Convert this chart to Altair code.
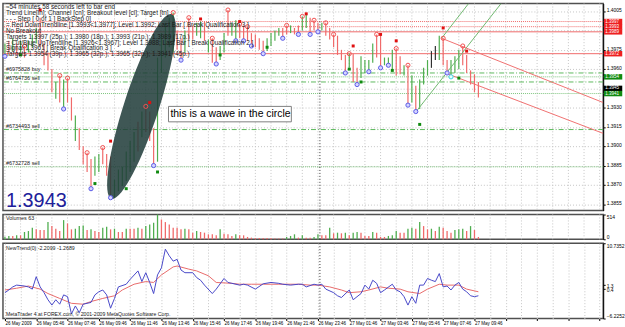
import json
import altair as alt
import pandas as pd

# ---------------- values ----------------
# M15 bars, index 0..121
bar_high = [1.3980, 1.3982, 1.3984, 1.3980, 1.3982, 1.3978, 1.3982, 1.3987, 1.3992, 1.4000,
            1.3980, 1.3973, 1.3960, 1.3950, 1.3955, 1.3952, 1.3953, 1.3938, 1.3924, 1.3914,
            1.3900, 1.3895, 1.3890, 1.3892, 1.3894, 1.3899, 1.3894, 1.3892, 1.3874, 1.3882,
            1.3884, 1.3896, 1.3904, 1.3911, 1.3919, 1.3927, 1.3931, 1.3927, 1.3914, 1.3969,
            1.3988, 1.3996, 1.4000, 1.4004, 1.3990, 1.3984, 1.3990, 1.4000, 1.3994, 1.3996,
            1.3997, 1.3997, 1.3983, 1.3984, 1.3977, 1.3978, 1.3988, 1.4006, 1.3996, 1.3998,
            1.3995, 1.3994, 1.3993, 1.3988, 1.3987, 1.3984, 1.3982, 1.3984, 1.3988, 1.3990,
            1.3992, 1.3992, 1.3994, 1.3994, 1.3992, 1.3994, 1.4001, 1.4002, 1.4000, 1.3998,
            1.3996, 1.3996, 1.3996, 1.3992, 1.3987, 1.3986, 1.3975, 1.3971, 1.3972, 1.3972,
            1.3961, 1.3970, 1.3967, 1.3967, 1.3980, 1.3987, 1.3987, 1.3969, 1.3969, 1.3975,
            1.3976, 1.3970, 1.3963, 1.3963, 1.3955, 1.3947, 1.3952, 1.3961, 1.3967, 1.3974,
            1.3978, 1.3986, 1.3984, 1.3967, 1.3967, 1.3970, 1.3975, 1.3978, 1.3971, 1.3959,
            1.3956, 1.3950]
bar_low = [1.3970, 1.3973, 1.3974, 1.3971, 1.3973, 1.3969, 1.3973, 1.3977, 1.3980, 1.3977,
           1.3963, 1.3959, 1.3942, 1.3937, 1.3934, 1.3929, 1.3934, 1.3920, 1.3904, 1.3897,
           1.3886, 1.3880, 1.3867, 1.3877, 1.3880, 1.3886, 1.3877, 1.3860, 1.3860, 1.3865,
           1.3869, 1.3873, 1.3880, 1.3888, 1.3896, 1.3907, 1.3911, 1.3904, 1.3885, 1.3888,
           1.3957, 1.3969, 1.3977, 1.3973, 1.3975, 1.3967, 1.3973, 1.3983, 1.3983, 1.3986,
           1.3984, 1.3982, 1.3973, 1.3965, 1.3964, 1.3967, 1.3973, 1.3986, 1.3986, 1.3982,
           1.3984, 1.3982, 1.3982, 1.3978, 1.3977, 1.3975, 1.3972, 1.3974, 1.3978, 1.3982,
           1.3986, 1.3984, 1.3987, 1.3988, 1.3987, 1.3987, 1.3990, 1.3992, 1.3987, 1.3990,
           1.3989, 1.3990, 1.3986, 1.3983, 1.3977, 1.3971, 1.3967, 1.3957, 1.3961, 1.3950,
           1.3948, 1.3953, 1.3957, 1.3958, 1.3965, 1.3969, 1.3961, 1.3963, 1.3963, 1.3960,
           1.3955, 1.3956, 1.3955, 1.3932, 1.3934, 1.3927, 1.3929, 1.3948, 1.3955, 1.3961,
           1.3967, 1.3967, 1.3963, 1.3957, 1.3954, 1.3957, 1.3960, 1.3963, 1.3957, 1.3948,
           1.3942, 1.3938]
bar_dir = list("udududuuud" "dddududdud" "ddduuddduu" "uuuududddu" "uuuudduddu"
               "ududduuduu" "ddddddduuu" "uddudduudd" "duddddddud" "duuuudduuu"
               "ddududuuun" "nudduuuddd" "dd")
volumes = [55, 69, 69, 82, 82, 151, 171, 240, 206, 192,
           192, 357, 274, 219, 171, 398, 329, 206, 219, 274,
           288, 192, 206, 171, 151, 240, 261, 206, 219, 151,
           151, 219, 219, 219, 240, 219, 274, 309, 343, 514,
           411, 357, 309, 240, 240, 206, 219, 206, 137, 171,
           151, 137, 103, 103, 82, 206, 117, 103, 69, 103,
           82, 82, 48, 34, 27, 27, 27, 27, 27, 14,
           14, 14, 48, 69, 103, 34, 82, 34, 34, 48,
           103, 82, 82, 240, 124, 137, 124, 137, 82, 137,
           151, 137, 69, 69, 151, 137, 48, 48, 69, 82,
           171, 137, 137, 219, 240, 219, 357, 274, 206, 219,
           171, 261, 240, 171, 137, 192, 206, 219, 171, 274,
           192, 48]

# fractal markers (bar indices) and signal squares (bar, price)
high_circle_bars = [5, 14, 16, 21, 25, 36, 43, 47, 53, 57, 60, 62, 72, 76, 79, 82, 84, 88, 95, 100, 103, 112, 117]
low_circle_bars = [0, 15, 22, 27, 38, 45, 54, 59, 61, 63, 66, 71, 75, 78, 80, 87, 90, 93, 96, 98, 103, 105, 113]
cyan_circle_bars = [114]
red_sq_bar = [9, 27, 37, 50, 60, 77, 89, 96, 100, 112, 118]
red_sq_price = [1.4006, 1.3904, 1.3934, 1.3999, 1.3997, 1.4003, 1.3978, 1.3987, 1.3982, 1.3992, 1.3974]
green_sq_bar = [4, 23, 31, 39, 55, 67, 88, 91, 99, 106, 116]
green_sq_price = [1.3971, 1.3871, 1.3867, 1.3880, 1.3971, 1.3977, 1.3960, 1.3950, 1.3959, 1.3917, 1.3953]

# horizontal levels
red_dotted_levels = [1.3997, 1.3993]
red_solid_levels = [1.3989, 1.3972]
green_dashdot_levels = [1.3957, 1.3950, 1.3913]
green_dotted_levels = [1.3954, 1.3941, 1.3884]
order_prices = [1.3957, 1.3950, 1.3913, 1.3884]
order_labels = ["#6975828 buy", "#6764736 sell", "#6734493 sell", "#6732728 sell"]

# trend lines: (id, bar, price)
trend_id = ["g1", "g1", "g2", "g2", "r1", "r1", "r2", "r2"]
trend_bar = [105.1, 126.8, 111.6, 118.5, 111.6, 152.9, 113.4, 152.9]
trend_price = [1.3927, 1.4011, 1.3984, 1.4011, 1.3984, 1.3934, 1.3956, 1.3910]
trend_color = ["#6fb86f", "#6fb86f", "#6fb86f", "#6fb86f", "#f07070", "#f07070", "#f07070", "#f07070"]

# right-hand price tags
tag_prices = [1.3997, 1.3993, 1.3989, 1.3972, 1.3954, 1.3945, 1.3941]
tag_colors = ["#ee2020", "#ee2020", "#ee2020", "#ee2020", "#108a10", "#000000", "#108a10"]

price_ticks = [1.3855, 1.3870, 1.3885, 1.3900, 1.3915, 1.3930, 1.3945, 1.3960, 1.3975, 1.3990, 1.4005]
hidden_price_labels = [1.3990, 1.3945]

# oscillator (NewTrend) lines
osc_blue_bar = [0, 1, 2, 3, 5, 6, 7, 8, 9, 10, 11, 12, 13, 14, 15, 16, 17, 18, 19, 20, 22, 23, 24, 25, 26, 27, 28, 29,
                31, 32, 34, 35, 36, 37, 38, 39, 40, 41, 42, 43, 44, 45, 46, 48, 49, 50, 51, 53, 54, 56, 57, 58, 60, 61,
                62, 64, 66, 68, 70, 71, 73, 75, 76, 77, 79, 80, 81, 82, 84, 85, 86, 88, 89, 91, 92, 93, 94, 95, 96, 97,
                99, 100, 101, 102, 103, 104, 105, 106, 107, 108, 109, 110, 111, 112, 113, 114, 115, 116, 117, 118, 119,
                120, 121]
osc_blue_val = [-0.4, 0.2, 0.9, 1.3, 1.1, 0.9, 0.4, 3.2, 0.9, -0.4, -2.0, -3.2, -2.0, -3.0, -0.9, -1.3, -5.2, -3.4,
                -4.9, -3.0, -2.6, -0.9, -0.2, 0.2, -0.9, -3.9, -1.7, 0.9, 1.5, 2.6, 4.5, 2.1, 4.1, 1.9, -0.6, 3.6, 5.2,
                9.4, 7.9, 6.7, 7.1, 4.7, 4.1, 4.1, 3.0, 2.4, 1.3, -0.6, 0.4, 2.8, 1.9, 1.7, 1.3, 1.5, 1.3, 0.4, 1.6,
                1.9, 1.7, 1.5, 1.3, 1.5, 1.5, 0.9, 1.5, 1.3, 1.5, 0.4, -0.4, -1.1, -1.5, 0.2, -2.0, -0.6, 1.3, 0.4,
                2.4, 1.7, -0.4, 0.2, 1.5, 0.2, -0.2, -1.3, -3.2, -1.3, -2.8, 1.3, 1.3, 2.8, 2.4, 2.1, 3.9, 0.9, 1.1,
                0.2, 1.3, 1.9, 0.4, -0.2, -1.1, -1.3, -1.1]
osc_red_bar = [0, 3, 6, 9, 11, 14, 17, 20, 22, 25, 28, 30, 33, 36, 38, 40, 43, 44, 47, 49, 52, 54, 58, 60, 63, 66, 70,
               75, 78, 80, 83, 86, 88, 91, 93, 96, 98, 101, 103, 106, 108, 111, 113, 116, 118, 121]
osc_red_val = [0.2, 0.6, 1.1, 0.4, -0.6, -1.7, -2.8, -3.0, -2.4, -1.7, -1.1, 0.2, 1.5, 2.1, 1.9, 3.6, 5.4, 5.6, 4.9,
               4.5, 3.4, 1.9, 1.7, 1.5, 1.5, 1.5, 1.5, 1.5, 1.3, 1.3, 0.9, 0.2, -0.4, -0.2, 0.2, 0.9, 0.6, 0.4, -0.2,
               -0.6, 0.4, 1.5, 1.3, 1.3, 0.4, -0.2]
osc_levels = [1.3, 0.4]
osc_min, osc_max = -6.2252, 10.7352

x_labels = ["26 May 2009", "26 May 05:46", "26 May 07:46", "26 May 09:46", "26 May 11:46", "26 May 13:46",
            "26 May 15:46", "26 May 17:46", "26 May 19:46", "26 May 21:46", "26 May 23:46", "27 May 01:46",
            "27 May 03:46", "27 May 05:46", "27 May 07:46", "27 May 09:46"]
day_separator = [80.5]

comment_lines = [
    "\u224854 minutes 58 seconds left to bar end",
    "Trend Line[ln]; Channel [cn]; Breakout level [cl]; Target [tn]",
    "- - - Step [ 0 of 1 ] BackStep 0]",
    "= Red DownTrendline [1.3993<1.3977]; Level 1.3992; Last Bar [ Break Qualification 3 ]",
    "No Breakout",
    "Targets 1.3997 (25p.); 1.3980 (18p.); 1.3993 (21p.); 1.3989 (17p.)",
    "= Cut/Blue UpTrendline [1.3926<1.3967]; Level 1.3988; Last Bar [ Break Qualification 2 ]",
    "Signal 1.3961 [ Break Qualification 3 ]",
    "Targets 1.3954 (39p.); 1.3965 (32p.); 1.3965 (32p.); 1.3941 (45p.)",
]
big_price_text = "1.3943"
note_text = "this is a wawe in the circle"
# annotation anchors (bar, price)
ellipse_center = (34.9, 1.3931)
note_box = (41.8, 73.2, 1.3919, 1.3931)
big_price_anchor = (0.3, 1.3853)

# ---------------- layout / styles ----------------
FONT = "Liberation Sans"
W = 606
H_MAIN, H_VOL, H_OSC = 209, 25, 76
GRIDC = "#c4c4c4"
xscale = alt.Scale(domain=[-0.5, 152.9], nice=False, zero=False)
grid_vals = list(range(0, 153, 4))

lbl_js = json.dumps(x_labels)
x_bottom_axis = alt.Axis(values=grid_vals, grid=True, gridColor=GRIDC, gridDash=[1, 2], domain=False, title=None,
                         labelExpr=f"datum.value % 8 == 0 ? {lbl_js}[datum.value / 8] : ''",
                         labelAlign="left", labelFontSize=4.6, labelColor="black", labelPadding=0.5,
                         labelOverlap=False, labelFont=FONT, tickSize=2, tickColor="black",
                         tickOpacity={"condition": {"test": "datum.value % 8 == 0", "value": 1}, "value": 0})

main_yscale = alt.Scale(domain=[1.3850, 1.4011], nice=False, zero=False)
hide_expr = " || ".join(f"abs(datum.value - {v}) < 0.00005" for v in hidden_price_labels)
main_yaxis = alt.Axis(orient="right", values=price_ticks, grid=True, gridColor=GRIDC, gridDash=[1, 2],
                      labelExpr=f"({hide_expr}) ? '' : format(datum.value, '.4f')",
                      labelFontSize=5.0, labelColor="black", labelFont=FONT, tickSize=2, tickColor="black",
                      domainColor="black", labelPadding=1, labelOffset=-1.5, title=None)


def XM(field="i", axis=None):
    return alt.X(f"{field}:Q", scale=xscale, axis=axis, title=None)


def YM(field="p"):
    return alt.Y(f"{field}:Q", scale=main_yscale, axis=main_yaxis, title=None)


grid_df = pd.DataFrame({"i": grid_vals})
sep = pd.DataFrame({"i": day_separator})
one = pd.DataFrame({"k": [0]})


def vgrid():
    return alt.Chart(grid_df).mark_rule(color=GRIDC, strokeDash=[1, 2], strokeWidth=1).encode(x=XM())


def separator(axis=None):
    return alt.Chart(sep).mark_rule(color="#303030", strokeDash=[1, 2]).encode(x=XM(axis=axis))


bars = pd.DataFrame({"i": list(range(len(bar_high))), "hi": bar_high, "lo": bar_low, "dir": bar_dir})
dir_color = alt.Color("dir:N", scale=alt.Scale(domain=["u", "d", "n"], range=["#4fae4f", "#f06a6a", "#303030"]),
                      legend=None)

layers = [vgrid()]


def level_layer(vals, color, dash, width=1):
    df = pd.DataFrame({"p": vals})
    m = alt.Chart(df).mark_rule(color=color, strokeWidth=width, strokeDash=dash) if dash else \
        alt.Chart(df).mark_rule(color=color, strokeWidth=width)
    return m.encode(y=YM("p"))


layers.append(level_layer(red_dotted_levels, "#f06a6a", [1, 1]))
layers.append(level_layer(red_solid_levels, "#f06a6a", None))
layers.append(level_layer(green_dashdot_levels, "#5cb85c", [5, 2, 1, 2]))
layers.append(level_layer(green_dotted_levels, "#7cc47c", [1, 1]))
layers.append(separator())

# price bars
layers.append(alt.Chart(bars).mark_rule(strokeWidth=1.2).encode(x=XM(), y=YM("lo"), y2="hi:Q", color=dir_color))

# dark ellipse annotation
ell = pd.DataFrame({"i": [ellipse_center[0]], "p": [ellipse_center[1]]})
layers.append(alt.Chart(ell).mark_point(
    shape="M 0 -1 A 0.18 1 0 1 1 0 1 A 0.18 1 0 1 1 0 -1 Z", filled=True, size=38416, angle=18,
    color="#1f3b39", opacity=0.86, strokeWidth=0).encode(x=XM(), y=YM()))

# trend lines
tl = pd.DataFrame({"id": trend_id, "i": trend_bar, "p": trend_price, "c": trend_color})
layers.append(alt.Chart(tl).mark_line(strokeWidth=1, clip=True).encode(
    x=XM(), y=YM(), detail="id:N", color=alt.Color("c:N", scale=None)))

# markers
hc = pd.DataFrame({"i": high_circle_bars, "p": [bar_high[k] for k in high_circle_bars]})
lc = pd.DataFrame({"i": low_circle_bars, "p": [bar_low[k] for k in low_circle_bars]})
cc = pd.DataFrame({"i": cyan_circle_bars, "p": [bar_low[k] for k in cyan_circle_bars]})
rs = pd.DataFrame({"i": red_sq_bar, "p": red_sq_price})
gs = pd.DataFrame({"i": green_sq_bar, "p": green_sq_price})
layers.append(alt.Chart(hc).mark_point(shape="circle", size=17, color="#f05050", strokeWidth=1, filled=False,
                                       opacity=1).encode(x=XM(), y=YM()))
layers.append(alt.Chart(lc).mark_point(shape="circle", size=18, stroke="#5a5ae6", fill="#d4d4ff", strokeWidth=1,
                                       opacity=1).encode(x=XM(), y=YM()))
layers.append(alt.Chart(cc).mark_point(shape="circle", size=18, stroke="#40d0e0", fill="#e0ffff", strokeWidth=1,
                                       opacity=1).encode(x=XM(), y=YM()))
layers.append(alt.Chart(rs).mark_square(size=9, color="#e01010", opacity=1).encode(x=XM(), y=YM()))
layers.append(alt.Chart(gs).mark_square(size=9, color="#108a10", opacity=1).encode(x=XM(), y=YM()))

# note box + text
nb = pd.DataFrame({"i": [note_box[0]], "i2": [note_box[1]], "p": [note_box[2]], "p2": [note_box[3]]})
layers.append(alt.Chart(nb).mark_rect(fill="white", stroke="#808080", strokeWidth=1).encode(
    x=XM(), x2="i2:Q", y=YM(), y2="p2:Q"))
nt = pd.DataFrame({"i": [note_box[0] + 0.5], "p": [(note_box[2] + note_box[3]) / 2], "t": [note_text]})
layers.append(alt.Chart(nt).mark_text(align="left", baseline="middle", fontSize=10.5, font=FONT,
                                      color="black").encode(x=XM(), y=YM(), text="t:N"))

# order labels
ol = pd.DataFrame({"p": order_prices, "t": order_labels})
layers.append(alt.Chart(ol).mark_text(align="left", baseline="bottom", dy=-1, fontSize=5.5, font=FONT,
                                      color="#202020").encode(x=alt.value(3), y=YM(), text="t:N"))

# big price
bp = pd.DataFrame({"i": [big_price_anchor[0]], "p": [big_price_anchor[1]], "t": [big_price_text]})
layers.append(alt.Chart(bp).mark_text(align="left", baseline="alphabetic", fontSize=20, font=FONT,
                                      color="#20209a").encode(x=XM(), y=YM(), text="t:N"))

# comment block
layers.append(alt.Chart(one).mark_text(align="left", baseline="top", fontSize=6.4, lineHeight=5.9, font=FONT,
                                       color="#1a1a1a").encode(x=alt.value(3), y=alt.value(1),
                                                                text=alt.value(comment_lines)))

# price tags on the right axis
tags = pd.DataFrame({"p": tag_prices, "c": tag_colors, "t": [f"{v:.4f}" for v in tag_prices],
                     "o": list(range(len(tag_prices)))})
layers.append(alt.Chart(tags).mark_point(shape="M -1 -0.3 L 1 -0.3 L 1 0.3 L -1 0.3 Z", filled=True,
                                         size=340, opacity=1, strokeWidth=0).encode(
    x=alt.value(616), y=YM(), color=alt.Color("c:N", scale=None), order="o:Q"))
layers.append(alt.Chart(tags).mark_text(align="left", baseline="middle", fontSize=4.6, font=FONT,
                                        color="white").encode(x=alt.value(608), y=YM(), text="t:N", order="o:Q"))

main = alt.layer(*layers).properties(width=W, height=H_MAIN)

# ---------------- volume panel ----------------
vdir = ["u"] + ["u" if volumes[k] > volumes[k - 1] else "d" for k in range(1, len(volumes))]
vol_df = pd.DataFrame({"i": list(range(len(volumes))), "v": volumes, "dir": vdir})
vscale = alt.Scale(domain=[0, 514], nice=False, zero=True)
vaxis = alt.Axis(orient="right", values=[0, 514], labelFlush=True, grid=False, labelFontSize=5.0, labelColor="black",
                 labelFont=FONT, tickSize=2, tickColor="black", domainColor="black", labelPadding=1, title=None)
vol = alt.layer(
    vgrid(),
    alt.Chart(vol_df).mark_rule(strokeWidth=1.3).encode(
        x=XM(), y=alt.Y("v:Q", scale=vscale, axis=vaxis, title=None), y2=alt.datum(0),
        color=alt.Color("dir:N", scale=alt.Scale(domain=["u", "d"], range=["#4fae4f", "#f06a6a"]), legend=None)),
    separator(),
    alt.Chart(one).mark_text(align="left", baseline="top", fontSize=5.5, font=FONT, color="#202020").encode(
        x=alt.value(3), y=alt.value(2), text=alt.value("Volumes 63")),
).properties(width=W, height=H_VOL)

# ---------------- oscillator panel ----------------
oscale = alt.Scale(domain=[osc_min, osc_max], nice=False, zero=False)
oaxis = alt.Axis(orient="right", values=[osc_min] + osc_levels[::-1] + [osc_max], format=".4~f", labelFlush=True,
                 grid=False, labelFontSize=5.0, labelColor="black", labelFont=FONT, tickSize=2, tickColor="black",
                 domainColor="black", labelPadding=1, labelOverlap=False, title=None)


def YO(field):
    return alt.Y(f"{field}:Q", scale=oscale, axis=oaxis, title=None)


ob = pd.DataFrame({"i": osc_blue_bar, "v": osc_blue_val})
orr = pd.DataFrame({"i": osc_red_bar, "v": osc_red_val})
olv = pd.DataFrame({"v": osc_levels})
osc = alt.layer(
    alt.Chart(olv).mark_rule(color="#6cbc6c", strokeDash=[1, 1]).encode(
        x=XM(axis=x_bottom_axis), y=YO("v")),
    separator(axis=x_bottom_axis),
    alt.Chart(orr).mark_line(color="#e86a6a", strokeWidth=1).encode(x=XM(axis=x_bottom_axis), y=YO("v")),
    alt.Chart(ob).mark_line(color="#4848c8", strokeWidth=1).encode(x=XM(axis=x_bottom_axis), y=YO("v")),
    alt.Chart(one).mark_text(align="left", baseline="top", fontSize=5.3, font=FONT, color="#202020").encode(
        x=alt.value(3), y=alt.value(3), text=alt.value("NewTrend(0) -2.2099 -1.2689")),
    alt.Chart(one).mark_text(align="left", baseline="bottom", fontSize=5.2, font=FONT, color="#202020").encode(
        x=alt.value(3), y=alt.value(H_OSC - 2),
        text=alt.value("MetaTrader 4 at FOREX.com, \u00a9 2001-2009 MetaQuotes Software Corp.")),
).properties(width=W, height=H_OSC)

chart = alt.vconcat(main, vol, osc, spacing=0).properties(
    padding=0, background="white"
).configure_view(stroke="#505050", strokeWidth=1.5).configure_text(font=FONT)

chart.save("out.html", embed_options={"renderer": "svg", "actions": False})
